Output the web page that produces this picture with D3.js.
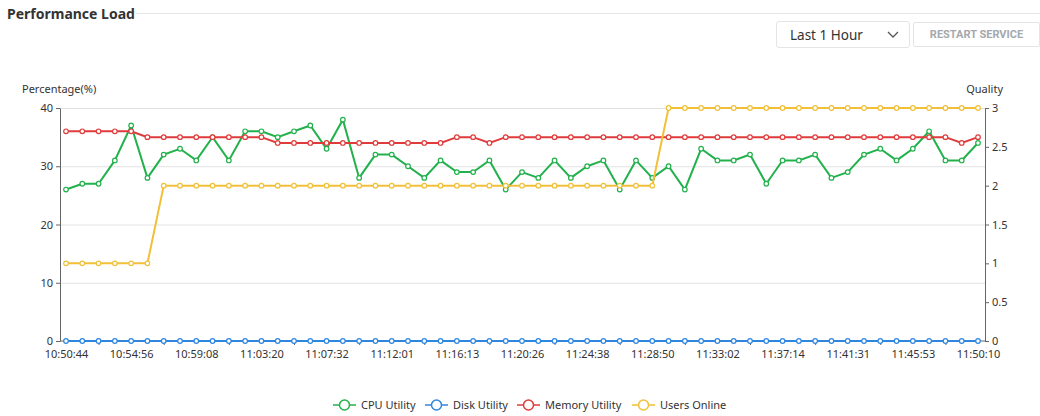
<!DOCTYPE html>
<html>
<head>
<meta charset="utf-8">
<title>Performance Load</title>
<script src="https://d3js.org/d3.v7.min.js"></script>
<style>
  body { margin: 0; background: #fff; font-family: "Noto Sans", "Open Sans", sans-serif; }
  .header { position: absolute; left: 7px; top: 4px; font-size: 14px; font-weight: bold; color: #333; }
  .rule { position: absolute; left: 136px; right: 0; top: 13px; border-top: 1px solid #e6e6e6; }
  .select { position: absolute; left: 776px; top: 21px; width: 134px; height: 27px; box-sizing: border-box;
            border: 1px solid #e4e4e4; border-radius: 3px; font-size: 13.5px; color: #333; }
  .select span { position: absolute; left: 13px; top: 4px; }
  .select svg { position: absolute; right: 10px; top: 9px; }
  .btn { position: absolute; left: 913px; top: 22px; width: 127px; height: 25px; box-sizing: border-box;
         border: 1px solid #e4e4e4; border-radius: 2px; font-size: 11px; font-weight: bold; color: #a3a8ad;
         text-align: center; line-height: 23px; font-family: Roboto, "Noto Sans", sans-serif; }
  svg.chart { position: absolute; left: 0; top: 0; }
  .axis text { font-size: 11px; fill: #333; font-family: "Noto Sans", sans-serif; }
  .axis path, .axis line { stroke: #666; }
  .grid line { stroke: #e2e2e2; }
  .grid path { display: none; }
</style>
</head>
<body>
<div class="header">Performance Load</div>
<div class="rule"></div>
<div class="select"><span>Last 1 Hour</span>
  <svg width="12" height="8"><path d="M1,1 L6,6 L11,1" fill="none" stroke="#555" stroke-width="1.3"/></svg>
</div>
<div class="btn">RESTART SERVICE</div>
<script>
// x-axis labels shown every 4th sample
const tickLabels = ["10:50:44", "10:54:56", "10:59:08", "11:03:20", "11:07:32", "11:12:01", "11:16:13",
  "11:20:26", "11:24:38", "11:28:50", "11:33:02", "11:37:14", "11:41:31", "11:45:53", "11:50:10"];

const cpuUtility = [26, 27, 27, 31, 37, 28, 32, 33, 31, 35, 31, 36, 36, 35, 36, 37, 33, 38, 28, 32,
  32, 30, 28, 31, 29, 29, 31, 26, 29, 28, 31, 28, 30, 31, 26, 31, 28, 30, 26, 33,
  31, 31, 32, 27, 31, 31, 32, 28, 29, 32, 33, 31, 33, 36, 31, 31, 34];
const diskUtility = [0, 0, 0, 0, 0, 0, 0, 0, 0, 0, 0, 0, 0, 0, 0, 0, 0, 0, 0, 0,
  0, 0, 0, 0, 0, 0, 0, 0, 0, 0, 0, 0, 0, 0, 0, 0, 0, 0, 0, 0,
  0, 0, 0, 0, 0, 0, 0, 0, 0, 0, 0, 0, 0, 0, 0, 0, 0];
const memoryUtility = [36, 36, 36, 36, 36, 35, 35, 35, 35, 35, 35, 35, 35, 34, 34, 34, 34, 34, 34, 34,
  34, 34, 34, 34, 35, 35, 34, 35, 35, 35, 35, 35, 35, 35, 35, 35, 35, 35, 35, 35,
  35, 35, 35, 35, 35, 35, 35, 35, 35, 35, 35, 35, 35, 35, 35, 34, 35];
const usersOnline = [1, 1, 1, 1, 1, 1, 2, 2, 2, 2, 2, 2, 2, 2, 2, 2, 2, 2, 2, 2,
  2, 2, 2, 2, 2, 2, 2, 2, 2, 2, 2, 2, 2, 2, 2, 2, 2, 3, 3, 3,
  3, 3, 3, 3, 3, 3, 3, 3, 3, 3, 3, 3, 3, 3, 3, 3, 3];

const leftTicks = [0, 10, 20, 30, 40];
const rightTicks = [0, 0.5, 1, 1.5, 2, 2.5, 3];

const series = [
  { name: "CPU Utility", values: cpuUtility, color: "#22b14c", axis: "left" },
  { name: "Disk Utility", values: diskUtility, color: "#2f86de", axis: "left" },
  { name: "Memory Utility", values: memoryUtility, color: "#e03b3b", axis: "left" },
  { name: "Users Online", values: usersOnline, color: "#f2c038", axis: "right" }
];

const W = 1040, H = 416;
const svg = d3.select("body").append("svg").attr("class", "chart").attr("width", W).attr("height", H);

const idx = d3.range(cpuUtility.length);
const x = d3.scalePoint().domain(idx).range([66, 978]);
const yL = d3.scaleLinear().domain([0, 40]).range([341, 108]);
const yR = d3.scaleLinear().domain([0, 3]).range([341, 108]);

// grid lines
svg.append("g").attr("class", "grid")
  .attr("transform", "translate(60,0)")
  .call(d3.axisLeft(yL).tickValues(leftTicks.slice(1)).tickSize(-925).tickFormat(""));

// left axis
svg.append("g").attr("class", "axis")
  .attr("transform", "translate(60,0)")
  .call(d3.axisLeft(yL).tickValues(leftTicks).tickSize(4).tickPadding(3).tickSizeOuter(0));

// right axis
svg.append("g").attr("class", "axis")
  .attr("transform", "translate(985,0)")
  .call(d3.axisRight(yR).tickValues(rightTicks).tickFormat(d3.format("~g"))
    .tickSize(4).tickPadding(3).tickSizeOuter(0));

// bottom axis: labels every 4th point, small ticks between them
const bottom = svg.append("g").attr("class", "axis").attr("transform", "translate(0,341)");
bottom.call(d3.axisBottom(x).tickValues(idx.filter(i => i % 4 === 0))
  .tickFormat(i => tickLabels[i / 4]).tickSize(0).tickPadding(9))
  .call(g => g.select(".domain").attr("d", "M60,0H985"));
svg.append("g").attr("class", "axis").attr("transform", "translate(0,341)")
  .call(d3.axisBottom(x).tickValues(idx.filter(i => i % 4 === 2)).tickFormat("").tickSize(4))
  .call(g => g.select(".domain").remove());

svg.append("text").attr("x", 22).attr("y", 93).attr("font-size", 11).attr("fill", "#333").text("Percentage(%)");
svg.append("text").attr("x", 1003).attr("y", 93).attr("font-size", 11).attr("fill", "#333")
  .attr("text-anchor", "end").text("Quality");

// series
series.forEach(s => {
  const y = s.axis === "left" ? yL : yR;
  const line = d3.line().x((d, i) => x(i)).y(d => y(d));
  const g = svg.append("g");
  g.append("path").datum(s.values).attr("d", line)
    .attr("fill", "none").attr("stroke", s.color).attr("stroke-width", 2);
  g.selectAll("circle").data(s.values).join("circle")
    .attr("cx", (d, i) => x(i)).attr("cy", d => y(d)).attr("r", 2.3)
    .attr("fill", "#fff").attr("stroke", s.color).attr("stroke-width", 1.2);
});

// legend
const legendX = [333, 425, 517, 632];
const legend = svg.append("g").attr("transform", "translate(0,405)");
series.forEach((s, k) => {
  const g = legend.append("g").attr("transform", `translate(${legendX[k]},0)`);
  g.append("line").attr("x1", 0).attr("x2", 23).attr("stroke", s.color).attr("stroke-width", 1.5);
  g.append("circle").attr("cx", 11.5).attr("r", 5).attr("fill", "#fff").attr("stroke", s.color).attr("stroke-width", 1.5);
  g.append("text").attr("x", 28).attr("y", 4).attr("font-size", 11).attr("fill", "#333").text(s.name);
});
</script>
</body>
</html>
